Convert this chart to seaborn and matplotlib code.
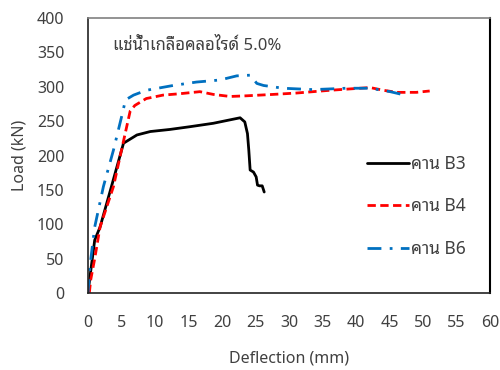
import matplotlib
matplotlib.use("Agg")
import matplotlib.pyplot as plt
import seaborn as sns
import pandas as pd

# ---- data ----
b3_x = [0, 0.3, 1.0, 1.8, 3.5, 5.3, 7.3, 9.3, 12.2, 15.2, 18.7, 21.2, 22.7, 23.4, 23.8, 24.0, 24.2, 24.7, 25.1, 25.3, 25.6, 26.0, 26.3]
b3_y = [0, 24, 77, 96, 155, 218, 230, 235, 238, 242, 247, 252, 255, 249, 232, 208, 179, 176, 169, 157, 156, 156, 147]

b4_x = [0.2, 0.4, 1.0, 1.8, 3.8, 5.0, 6.3, 7.0, 8.7, 11.2, 13.7, 16.7, 18.7, 21.2, 23.7, 27.6, 31.1, 36.1, 42.1, 44.1, 46.1, 49.0, 51.0]
b4_y = [0, 19, 50, 96, 155, 208, 265, 273, 283, 288, 290, 293, 289, 286, 287, 289, 291, 295, 299, 295, 292, 292, 294]

b6_x = [0, 0.3, 1.0, 2.3, 3.8, 5.0, 5.6, 6.8, 8.7, 12.7, 16.2, 19.7, 22.2, 24.2, 25.2, 26.2, 29.1, 33.6, 38.6, 42.1, 45.1, 47.3]
b6_y = [0, 40, 96, 155, 208, 256, 281, 288, 295, 302, 307, 310, 316, 317, 305, 302, 298, 296, 298, 298, 293, 288]

series_labels = ["คาน B3", "คาน B4", "คาน B6"]
annotation = "แช่น้ำเกลือคลอไรด์ 5.0%"
x_label = "Deflection (mm)"
y_label = "Load (kN)"

frames = []
for lab, xs, ys in zip(series_labels, [b3_x, b4_x, b6_x], [b3_y, b4_y, b6_y]):
    frames.append(pd.DataFrame({"x": xs, "y": ys, "s": lab}))
df = pd.concat(frames, ignore_index=True)

sns.set_style("white")
FONT = ["Noto Sans Thai Looped", "Noto Sans", "DejaVu Sans"]
plt.rcParams["font.family"] = FONT
TXT = "#404040"

fig = plt.figure(figsize=(5, 3.7), dpi=100)
ax = fig.add_axes([0.176, 0.208, 0.804, 0.743])

colors = {"คาน B3": "black", "คาน B4": "#FF0000", "คาน B6": "#0070C0"}
styles = {"คาน B3": "-", "คาน B4": (0, (3, 1.6)), "คาน B6": (0, (5, 3, 1, 3))}
for lab in series_labels:
    sub = df[df.s == lab]
    sns.lineplot(data=sub, x="x", y="y", ax=ax, color=colors[lab], lw=2,
                 linestyle=styles[lab], label=lab, sort=False, estimator=None)

ax.set_xlim(0, 60)
ax.set_ylim(0, 400)
ax.set_xticks(range(0, 61, 5))
ax.set_yticks(range(0, 401, 50))
ax.tick_params(direction="out", length=5, width=1, colors="#404040",
               labelsize=11.5, labelcolor=TXT)
ax.tick_params(axis="y", pad=12)
ax.tick_params(axis="x", pad=11)
for side in ["left", "bottom"]:
    ax.spines[side].set_color("#222222")
    ax.spines[side].set_linewidth(1.2)
ax.spines["top"].set_color("#808080")
ax.spines["top"].set_linewidth(1.2)
ax.spines["right"].set_color("black")
ax.spines["right"].set_linewidth(1.5)

ax.set_xlabel(x_label, fontsize=11.5, color=TXT, labelpad=14)
ax.set_ylabel(y_label, fontsize=11.5, color=TXT, labelpad=7)

ax.text(3.7, 359, annotation, fontsize=12, color=TXT, va="center", ha="left")

leg = ax.legend(loc="center left", bbox_to_anchor=(0.695, 0.315), frameon=False,
                fontsize=12.5, handlelength=2.4, handletextpad=0.1, labelspacing=1.4,
                borderpad=0, borderaxespad=0, labelcolor=TXT)

fig.savefig("out.png", dpi=100)
